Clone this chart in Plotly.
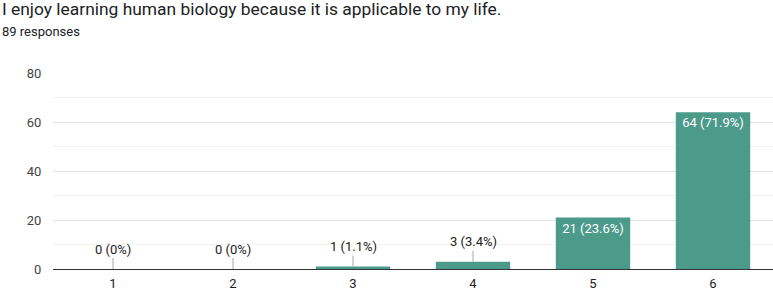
import plotly.graph_objects as go

title = "I enjoy learning human biology because it is applicable to my life."
subtitle = "89 responses"
categories = ["1", "2", "3", "4", "5", "6"]
counts = [0, 0, 1, 3, 21, 64]
percents = ["0%", "0%", "1.1%", "3.4%", "23.6%", "71.9%"]
y_ticks = [0, 20, 40, 60, 80]

BAR = "#4c9a8a"
FONT = "Roboto, Arial, sans-serif"

labels = [f"{c} ({p})" for c, p in zip(counts, percents)]
inside = [c >= 15 for c in counts]

fig = go.Figure()
fig.add_trace(go.Bar(
    x=categories, y=counts,
    marker=dict(color=BAR, line=dict(width=0)),
    width=0.62,
    text=[l if i else "" for l, i in zip(labels, inside)],
    textposition="inside",
    insidetextanchor="end",
    textfont=dict(color="white", size=13, family=FONT),
    hoverinfo="skip",
))

for idx, (c, l, i) in enumerate(zip(counts, labels, inside)):
    if not i:
        fig.add_annotation(
            x=idx, y=c, xref="x", yref="y",
            text=l, showarrow=True, arrowhead=0, arrowwidth=1,
            arrowcolor="#a8a8a8", ax=0, ay=-20, standoff=0,
            font=dict(size=13, color="#222222", family=FONT),
        )

H = 196
fig.add_annotation(
    xref="paper", yref="paper", x=-53 / 720, y=(269 - 9) / H,
    xanchor="left", yanchor="middle", text=title, showarrow=False,
    font=dict(size=17.4, color="#202124", family=FONT),
)
fig.add_annotation(
    xref="paper", yref="paper", x=-53 / 720, y=(269 - 31) / H,
    xanchor="left", yanchor="middle", text=subtitle, showarrow=False,
    font=dict(size=13, color="#202124", family=FONT),
)

fig.update_layout(
    width=773, height=289,
    margin=dict(l=53, r=0, t=73, b=20, autoexpand=False),
    paper_bgcolor="white", plot_bgcolor="white",
    showlegend=False,
    font=dict(family=FONT, size=13, color="#444444"),
    xaxis=dict(
        type="category", showgrid=False, zeroline=False,
        showline=True, linecolor="#333333", linewidth=1,
        ticks="", ticklabelstandoff=2, automargin=False,
        tickfont=dict(size=13, color="#222222"),
    ),
    yaxis=dict(
        range=[0, 80], tickvals=y_ticks, automargin=False,
        showgrid=True, gridcolor="#e3e3e3", gridwidth=1,
        zeroline=False, showline=False,
        ticks="outside", ticklen=8, tickcolor="rgba(0,0,0,0)",
        tickfont=dict(size=13, color="#444444"),
        minor=dict(dtick=10, showgrid=True, gridcolor="#f3f3f3"),
        fixedrange=True,
    ),
)

fig.write_html(
    "out.html",
    config={"displayModeBar": False},
    post_script="document.body.style.margin='0';document.body.style.padding='0';",
)
